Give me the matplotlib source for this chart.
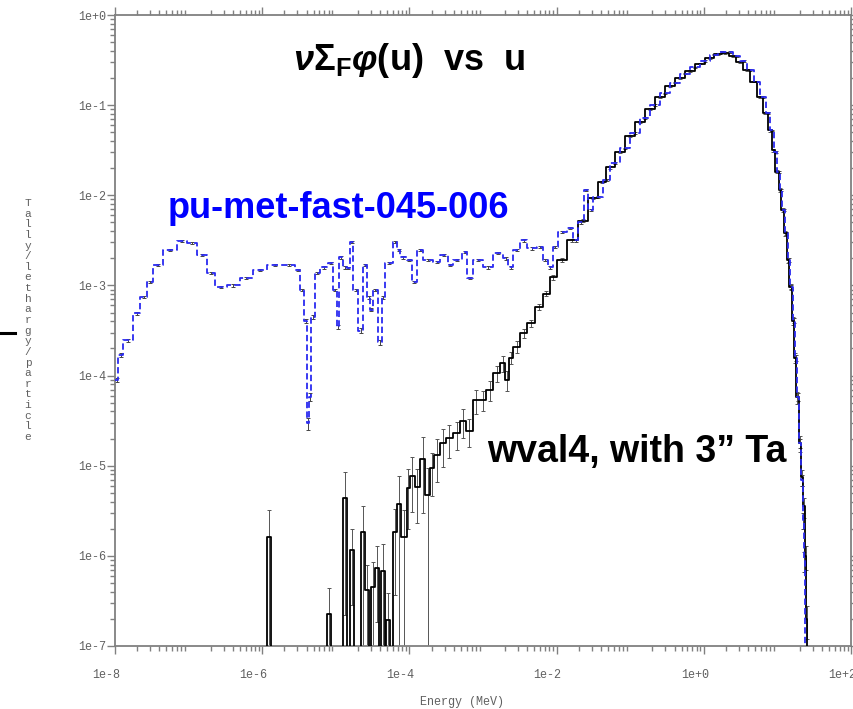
import numpy as np
import matplotlib
matplotlib.use("Agg")
import matplotlib.pyplot as plt
from matplotlib.ticker import LogLocator, NullFormatter, FixedLocator, FixedFormatter
from matplotlib.lines import Line2D
from matplotlib.transforms import ScaledTranslation

plt.rcParams['mathtext.fontset'] = 'custom'
plt.rcParams['mathtext.rm'] = 'Liberation Sans:bold'
plt.rcParams['mathtext.bf'] = 'Liberation Sans:bold'
plt.rcParams['mathtext.it'] = 'Liberation Sans:bold:italic'

# pu-met-fast-045-006 (blue dashed), bin edges as log10(E/MeV), values as log10(tally)
blue_logE = [-8.000, -7.959, -7.891, -7.755, -7.660, -7.565, -7.484, -7.348, -7.158, -7.022,
             -6.886, -6.750, -6.641, -6.478, -6.302, -6.125, -5.935, -5.717, -5.554, -5.486,
             -5.432, -5.391, -5.364, -5.337, -5.283, -5.215, -5.106, -5.038, -4.984, -4.957,
             -4.902, -4.848, -4.807, -4.766, -4.698, -4.630, -4.576, -4.535, -4.495, -4.427,
             -4.372, -4.332, -4.223, -4.168, -4.128, -4.033, -3.965, -3.897, -3.815, -3.679,
             -3.584, -3.476, -3.408, -3.285, -3.217, -3.136, -3.000, -2.864, -2.728, -2.660,
             -2.592, -2.497, -2.402, -2.266, -2.185, -2.117, -2.049, -1.981, -1.859, -1.777,
             -1.709, -1.628, -1.573, -1.505, -1.370, -1.274, -1.139, -1.003, -0.867, -0.731,
             -0.595, -0.459, -0.323, -0.188, -0.052, 0.084, 0.193, 0.302, 0.397, 0.492,
             0.587, 0.682, 0.764, 0.845, 0.899, 0.954, 0.995, 1.035, 1.063, 1.103,
             1.144, 1.171, 1.212, 1.239, 1.266, 1.293, 1.321, 1.348, 1.361, 1.375]
blue_logy = [-4.05, -3.77, -3.61, -3.31, -3.13, -2.96, -2.77, -2.61, -2.51, -2.53,
             -2.66, -2.86, -3.02, -3.00, -2.92, -2.83, -2.77, -2.77, -2.83, -3.05,
             -3.39, -4.53, -4.24, -3.35, -2.86, -2.80, -2.75, -3.05, -3.46, -2.69,
             -2.80, -2.81, -2.52, -3.05, -3.50, -2.77, -3.13, -3.27, -3.05, -3.63,
             -3.13, -2.75, -2.52, -2.61, -2.69, -2.72, -2.96, -2.61, -2.72, -2.74,
             -2.66, -2.77, -2.72, -2.63, -2.92, -2.72, -2.80, -2.64, -2.70, -2.80,
             -2.61, -2.50, -2.59, -2.57, -2.72, -2.80, -2.57, -2.41, -2.36, -2.50,
             -2.30, -1.94, -2.16, -2.02, -1.83, -1.64, -1.48, -1.31, -1.14, -1.00,
             -0.87, -0.75, -0.65, -0.58, -0.51, -0.44, -0.41, -0.41, -0.46, -0.51,
             -0.61, -0.74, -0.91, -1.09, -1.28, -1.52, -1.74, -1.94, -2.16, -2.42,
             -2.72, -3.02, -3.39, -3.80, -4.24, -4.75, -5.16, -5.60, -6.05, None]
blue_relerr = [0.05, 0.05, 0.04, 0.04, 0.03, 0.03, 0.03, 0.03, 0.03, 0.03,
               0.03, 0.03, 0.03, 0.03, 0.03, 0.03, 0.03, 0.03, 0.03, 0.03,
               0.05, 0.15, 0.10, 0.04, 0.03, 0.03, 0.03, 0.03, 0.06, 0.03,
               0.03, 0.03, 0.03, 0.03, 0.06, 0.03, 0.04, 0.04, 0.03, 0.06,
               0.04, 0.03, 0.03, 0.03, 0.03, 0.03, 0.03, 0.03, 0.03, 0.03,
               0.03, 0.03, 0.03, 0.03, 0.03, 0.03, 0.03, 0.03, 0.03, 0.03,
               0.03, 0.03, 0.03, 0.03, 0.03, 0.03, 0.03, 0.03, 0.03, 0.03,
               0.03, 0.03, 0.03, 0.03, 0.02, 0.02, 0.02, 0.02, 0.02, 0.02,
               0.02, 0.02, 0.02, 0.02, 0.02, 0.02, 0.02, 0.02, 0.02, 0.02,
               0.02, 0.02, 0.02, 0.02, 0.02, 0.03, 0.03, 0.03, 0.03, 0.04,
               0.05, 0.05, 0.06, 0.08, 0.10, 0.12, 0.15, 0.20, 0.25, 0.0]

# wval4, with 3" Ta (black), None = empty bin
black_logE = [-8.000, -5.935, -5.880, -5.120, -5.065, -4.902, -4.848, -4.807, -4.753, -4.658,
              -4.603, -4.549, -4.522, -4.467, -4.413, -4.386, -4.332, -4.318, -4.264, -4.223,
              -4.168, -4.114, -4.033, -3.992, -3.924, -3.856, -3.788, -3.720, -3.666, -3.584,
              -3.503, -3.408, -3.312, -3.231, -3.136, -3.041, -2.959, -2.864, -2.769, -2.701,
              -2.647, -2.592, -2.497, -2.402, -2.293, -2.185, -2.090, -1.995, -1.859, -1.709,
              -1.573, -1.437, -1.329, -1.207, -1.071, -0.935, -0.799, -0.663, -0.527, -0.391,
              -0.255, -0.120, 0.016, 0.139, 0.247, 0.342, 0.438, 0.533, 0.628, 0.723,
              0.804, 0.872, 0.927, 0.967, 1.022, 1.049, 1.090, 1.130, 1.158, 1.198,
              1.226, 1.253, 1.293, 1.321, 1.348, 1.375, 1.389, 1.402]
black_logy = [None, -5.79, None, -6.65, None, -5.36, None, -5.94, None, -5.74,
              -6.38, None, -6.35, -6.13, None, -6.17, None, -6.71, None, -5.74,
              -5.42, -5.79, -5.25, -5.11, -5.24, -4.92, -5.33, -5.03, -4.88, -4.75,
              -4.69, -4.64, -4.50, -4.61, -4.27, -4.27, -4.16, -3.97, -3.86, -4.05,
              -3.80, -3.68, -3.53, -3.42, -3.24, -3.09, -2.91, -2.72, -2.50, -2.28,
              -2.03, -1.85, -1.69, -1.52, -1.34, -1.19, -1.04, -0.91, -0.79, -0.70,
              -0.62, -0.54, -0.48, -0.43, -0.42, -0.46, -0.52, -0.61, -0.74, -0.91,
              -1.09, -1.28, -1.50, -1.74, -1.94, -2.16, -2.42, -2.72, -3.02, -3.39,
              -3.80, -4.24, -4.75, -5.13, -5.45, -6.00, -6.70, None]
black_relerr = [0, 1.0, 0, 0.95, 0, 0.95, 0, 0.75, 0, 0.95,
                0.9, 0, 0.9, 0.75, 0, 1.0, 0, 1.0, 0, 0.8,
                1.0, 1.0, 0.65, 0.6, 0.6, 0.75, 1.0, 0.5, 0.5, 0.45,
                0.4, 0.35, 0.35, 0.35, 0.3, 0.25, 0.25, 0.2, 0.2, 0.25,
                0.15, 0.15, 0.12, 0.1, 0.08, 0.07, 0.06, 0.05, 0.04, 0.04,
                0.03, 0.03, 0.03, 0.02, 0.02, 0.02, 0.02, 0.02, 0.02, 0.02,
                0.02, 0.02, 0.02, 0.02, 0.02, 0.02, 0.02, 0.02, 0.02, 0.03,
                0.03, 0.03, 0.04, 0.04, 0.05, 0.05, 0.06, 0.07, 0.08, 0.1,
                0.12, 0.15, 0.2, 0.2, 0.25, 0.3, 0.4, 0]

x_end = 2.0
tick_vals = [1e-8, 1e-6, 1e-4, 1e-2, 1e0, 1e2]
tick_labels = ["1e-8", "1e-6", "1e-4", "1e-2", "1e+0", "1e+2"]
ytick_vals = [1e-7, 1e-6, 1e-5, 1e-4, 1e-3, 1e-2, 1e-1, 1e0]
ytick_labels = ["1e-7", "1e-6", "1e-5", "1e-4", "1e-3", "1e-2", "1e-1", "1e+0"]


def draw_hist(ax, logE, logy, relerr, color, ls, lw, ecolor):
    edges = 10 ** np.append(np.array(logE, dtype=float), x_end)
    vals = np.array(logy, dtype=float)
    y = np.where(np.isnan(vals), 1e-12, 10 ** np.nan_to_num(vals, nan=-12))
    ax.step(edges, np.append(y, y[-1]), where='post', color=color, ls=ls, lw=lw, zorder=3)
    good = ~np.isnan(vals)
    centers = np.sqrt(edges[:-1] * edges[1:])[good]
    yy = y[good]
    rel = np.array(relerr, dtype=float)[good]
    lower = np.minimum(rel, 0.999999) * yy
    upper = rel * yy
    ax.errorbar(centers, yy, yerr=[lower, upper], fmt='none', ecolor=ecolor,
                elinewidth=0.7, capsize=1.6, capthick=0.7, zorder=2)


fig = plt.figure(figsize=(8.54, 7.09), dpi=100)
ax = fig.add_axes([115 / 854, 1 - 646 / 709, 736 / 854, 631 / 709])
ax.set_xscale('log')
ax.set_yscale('log')

draw_hist(ax, black_logE, black_logy, black_relerr, 'black', '-', 1.3, '#555555')
draw_hist(ax, blue_logE, blue_logy, blue_relerr, '#2a2af0', (0, (3.5, 1.8)), 1.3, '#444444')

ax.set_xlim(1e-8, 1e2)
ax.set_ylim(1e-7, 1e0)

gray = '#808080'
for s in ax.spines.values():
    s.set_color(gray)
    s.set_linewidth(1.3)
ax.xaxis.set_major_locator(FixedLocator(tick_vals))
ax.xaxis.set_major_formatter(FixedFormatter(tick_labels))
ax.yaxis.set_major_locator(FixedLocator(ytick_vals))
ax.yaxis.set_major_formatter(FixedFormatter(ytick_labels))
ax.xaxis.set_minor_locator(LogLocator(base=10, subs=np.arange(2, 10), numticks=50))
ax.yaxis.set_minor_locator(LogLocator(base=10, subs=np.arange(2, 10), numticks=50))
ax.xaxis.set_minor_formatter(NullFormatter())
ax.yaxis.set_minor_formatter(NullFormatter())
ax.tick_params(which='both', direction='out', color=gray, top=True, right=True,
               labelcolor='#606060', labelsize=8.5, width=1.0)
ax.tick_params(which='major', length=5.5)
ax.tick_params(which='minor', length=3.5)
ax.tick_params(axis='x', pad=11)
ax.tick_params(axis='y', pad=1)
for lab in ax.get_xticklabels() + ax.get_yticklabels():
    lab.set_family('Liberation Mono')
shift = ScaledTranslation(5 / 100, 0, fig.dpi_scale_trans)
for lab in ax.get_xticklabels():
    lab.set_ha('right')
    lab.set_transform(lab.get_transform() + shift)

# axis titles
fig.text(462 / 854, 1 - 702 / 709, "Energy (MeV)", family='Liberation Mono', fontsize=8.5,
         color='#606060', ha='center', va='center')
fig.text(28 / 854, 1 - 320 / 709, "\n".join("Tally/lethargy/particle"), family='Liberation Mono',
         fontsize=8, color='#606060', ha='center', va='center', linespacing=1.08)

# annotations
fig.text(293 / 854, 1 - 70 / 709, r"$\nu\Sigma_{\mathrm{F}}\varphi$(u)  vs  u",
         family='Liberation Sans', weight='bold', fontsize=26, color='black', va='baseline')
fig.text(168 / 854, 1 - 218 / 709, "pu-met-fast-045-006", family='Liberation Sans',
         weight='bold', fontsize=26, color='#0000ff', va='baseline')
fig.text(487 / 854, 1 - 462 / 709, "wval4, with 3\u201d Ta", family='Liberation Sans',
         weight='bold', fontsize=27, color='black', va='baseline')

fig.add_artist(Line2D([0, 15 / 854], [1 - 333 / 709, 1 - 333 / 709], color='black', lw=2.2))

fig.savefig("out.png", dpi=100)
